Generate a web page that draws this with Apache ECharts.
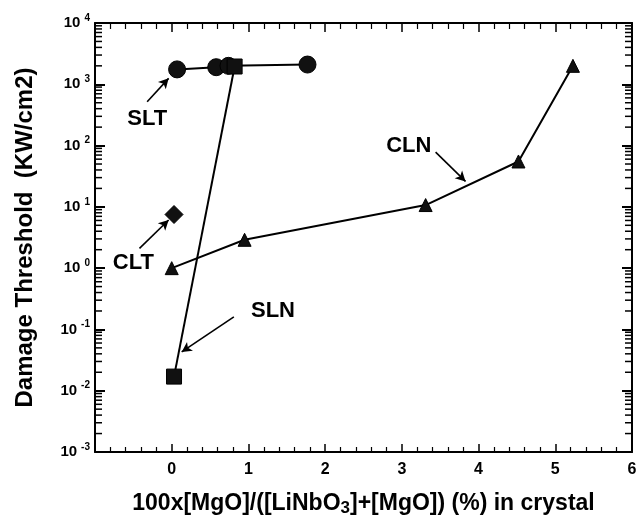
<!DOCTYPE html>
<html>
<head>
<meta charset="utf-8">
<script src="https://cdn.jsdelivr.net/npm/echarts@6/dist/echarts.min.js"></script>
<style>
  html, body { margin: 0; padding: 0; background: #fff; }
  #chart { width: 637px; height: 515px; }
</style>
</head>
<body>
<div id="chart"></div>
<script>
// Laser damage threshold vs MgO content for LiNbO3 / LiTaO3 crystals
const sltData = [[0.07, 1750], [0.58, 1900], [0.74, 2000], [1.77, 2100]];
const cltData = [[0.03, 7.5]];
const slnData = [[0.03, 0.017], [0.82, 1950]];
const clnData = [[0.0, 1.0], [0.95, 2.9], [3.31, 10.7], [4.52, 55], [5.23, 2000]];

// annotation labels and arrows (data coordinates)
const labelNames = ['SLT', 'CLT', 'SLN', 'CLN'];
const labelPos = [[-0.32, 270], [-0.50, 1.2], [1.32, 0.2], [3.09, 100]];
const arrowFrom = [[-0.32, 520], [-0.42, 2.1], [0.81, 0.16], [3.44, 78]];
const arrowTo = [[-0.04, 1250], [-0.04, 6.1], [0.13, 0.043], [3.83, 26]];

const xTickLabels = ['0', '1', '2', '3', '4', '5', '6'];
const yDecades = [-3, -2, -1, 0, 1, 2, 3, 4];

const FONT = 'Liberation Sans, Arial, sans-serif';
const chart = echarts.init(document.getElementById('chart'));

// log minor tick positions (2..9 x 10^k)
const minorVals = [];
for (let k = yDecades[0]; k < yDecades[yDecades.length - 1]; k++) {
  for (let m = 2; m <= 9; m++) minorVals.push([m * Math.pow(10, k)]);
}

const arrows = labelNames.map((n, i) => [
  { coord: arrowFrom[i], symbol: 'none' },
  { coord: arrowTo[i], symbol: 'arrow' }
]);

const lineSeries = (name, data, symbol, size) => ({
  name, type: 'line', data, symbol, symbolSize: size,
  lineStyle: { color: '#000', width: 2 },
  itemStyle: { color: '#111', borderColor: '#000', borderWidth: 1 },
  z: 3
});

const axisLineStyle = { onZero: false, lineStyle: { color: '#000', width: 2 } };

chart.setOption({
  animation: false,
  backgroundColor: '#fff',
  grid: { left: 95, right: 5, top: 23, bottom: 63, containLabel: false, outerBoundsMode: 'none' },
  xAxis: [{
    type: 'value', min: -1, max: 6, interval: 1,
    axisLine: axisLineStyle,
    axisTick: { inside: true, length: 8, lineStyle: { color: '#000', width: 1.5 } },
    minorTick: { show: true, splitNumber: 5, length: 5, lineStyle: { color: '#000', width: 1.2 } },
    splitLine: { show: false },
    minorSplitLine: { show: false },
    axisLabel: {
      margin: 10, color: '#000', fontFamily: FONT, fontWeight: 'bold', fontSize: 16,
      formatter: v => (v >= 0 ? xTickLabels[Math.round(v)] : '')
    },
    name: '{t|100x[MgO]/([LiNbO}{sub|3}{t|]+[MgO]) (%) in crystal}',
    nameLocation: 'middle', nameGap: 38,
    nameTextStyle: {
      rich: {
        t: { fontFamily: FONT, fontWeight: 'bold', fontSize: 23, color: '#000' },
        sub: { fontFamily: FONT, fontWeight: 'bold', fontSize: 17, color: '#000', padding: [10, 0, 0, 0] }
      }
    }
  }, {
    type: 'value', min: -1, max: 6, interval: 1, position: 'top',
    axisLine: axisLineStyle,
    axisTick: { inside: true, length: 9, lineStyle: { color: '#000', width: 1.5 } },
    minorTick: { show: true, splitNumber: 5, length: 6, lineStyle: { color: '#000', width: 1.2 } },
    splitLine: { show: false },
    axisLabel: { show: false }
  }],
  yAxis: [{
    type: 'log', logBase: 10, min: 0.001, max: 10000,
    axisLine: axisLineStyle,
    axisTick: { inside: true, length: 10, lineStyle: { color: '#000', width: 2 } },
    splitLine: { show: false },
    axisLabel: {
      margin: 5, color: '#000',
      formatter: v => '{b|10}{s|' + Math.round(Math.log10(v)) + '}',
      rich: {
        b: { fontFamily: FONT, fontWeight: 'bold', fontSize: 15, color: '#000' },
        s: { fontFamily: FONT, fontWeight: 'bold', fontSize: 10, color: '#000', padding: [0, 0, 10, 4] }
      }
    },
    name: 'Damage Threshold  (KW/cm2)',
    nameLocation: 'middle', nameGap: 58, nameRotate: 90,
    nameTextStyle: { fontFamily: FONT, fontWeight: 'bold', fontSize: 24, color: '#000' }
  }, {
    type: 'log', logBase: 10, min: 0.001, max: 10000, position: 'right',
    axisLine: axisLineStyle,
    axisTick: { inside: true, length: 10, lineStyle: { color: '#000', width: 2 } },
    splitLine: { show: false },
    axisLabel: { show: false }
  }],
  series: [
    lineSeries('SLT', sltData, 'circle', 17),
    lineSeries('SLN', slnData, 'rect', 15),
    lineSeries('CLT', cltData, 'diamond', 18),
    lineSeries('CLN', clnData, 'triangle', 13),
    {
      name: 'annotations', type: 'scatter', symbolSize: 0,
      itemStyle: { opacity: 1 },
      data: labelNames.map((n, i) => ({ name: n, value: labelPos[i] })),
      label: {
        show: true, position: 'inside', formatter: p => p.name,
        fontFamily: FONT, fontWeight: 'bold', fontSize: 22, color: '#000', opacity: 1
      },
      markLine: {
        silent: true, symbolSize: [8, 10],
        lineStyle: { color: '#000', width: 1.6, type: 'solid' },
        label: { show: false },
        data: arrows
      },
      z: 4
    },
    {
      name: 'logMinorTicks', type: 'custom', silent: true, clip: false,
      data: minorVals,
      renderItem: (params, api) => {
        const y = api.value(0);
        const pl = api.coord([-1, y]);
        const pr = api.coord([6, y]);
        const st = { stroke: '#000', lineWidth: 1.5 };
        return {
          type: 'group', children: [
            { type: 'line', shape: { x1: pl[0], y1: pl[1], x2: pl[0] + 7, y2: pl[1] }, style: st },
            { type: 'line', shape: { x1: pr[0] - 7, y1: pr[1], x2: pr[0], y2: pr[1] }, style: st }
          ]
        };
      },
      z: 2
    }
  ]
});
</script>
</body>
</html>
